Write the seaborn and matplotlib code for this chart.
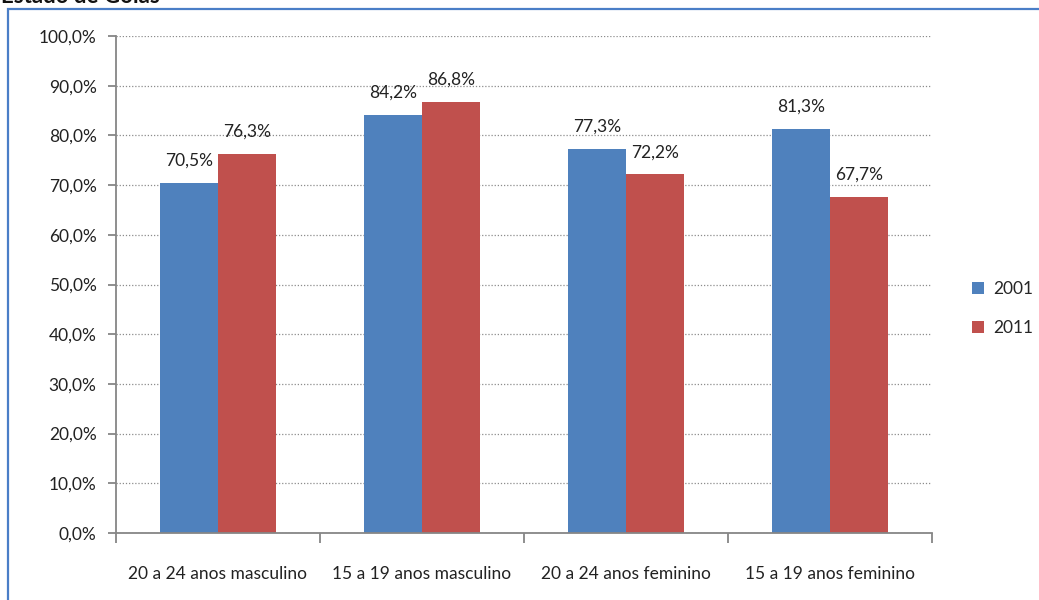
import matplotlib
matplotlib.use("Agg")
import matplotlib.pyplot as plt
import matplotlib.patches as mpatches
import seaborn as sns
import pandas as pd

categories = ["20 a 24 anos masculino", "15 a 19 anos masculino",
              "20 a 24 anos feminino", "15 a 19 anos feminino"]
years = ["2001", "2011"]
values_2001 = [70.5, 84.2, 77.3, 81.3]
values_2011 = [76.3, 86.8, 72.2, 67.7]
y_ticks = [0, 10, 20, 30, 40, 50, 60, 70, 80, 90, 100]

df = pd.DataFrame({
    "categoria": categories * 2,
    "ano": [years[0]] * len(categories) + [years[1]] * len(categories),
    "valor": values_2001 + values_2011,
})

sns.set_theme(style="white")
plt.rcParams["font.family"] = ["Lato", "DejaVu Sans"]
FS = 12.5

fig = plt.figure(figsize=(10.39, 6.0), dpi=100)
ax = fig.add_axes([116 / 1039, 67 / 600, (932 - 116) / 1039, (533 - 36) / 600])

palette = {"2001": "#4F81BD", "2011": "#C0504D"}
sns.barplot(data=df, x="categoria", y="valor", hue="ano", order=categories,
            hue_order=years, palette=palette, width=0.57, gap=0,
            saturation=1, linewidth=0, ax=ax, legend=True)

def fmt(v):
    return f"{v:.1f}".replace(".", ",") + "%"

for cont in ax.containers:
    ax.bar_label(cont, labels=[fmt(b.get_height()) for b in cont],
                 padding=10, fontsize=FS, color="#222222")

ax.set_ylim(0, 100)
ax.set_xlim(-0.5, len(categories) - 0.5)
ax.set_yticks(y_ticks)
ax.set_yticklabels([fmt(t) for t in y_ticks], fontsize=FS, color="#222222")
ax.yaxis.grid(True, linestyle=(0, (1, 1.5)), color="#8c8c8c", linewidth=0.9)
ax.set_axisbelow(True)

# category boundaries carry the tick marks, labels sit at the centres
ax.set_xticks([i - 0.5 for i in range(len(categories) + 1)])
ax.set_xticklabels([])
ax.set_xticks(range(len(categories)), minor=True)
ax.set_xticklabels(categories, minor=True, fontsize=FS, color="#222222")
ax.tick_params(axis="x", which="major", length=7, width=1.3, color="#868686",
               bottom=True, direction="out")
ax.tick_params(axis="x", which="minor", length=0, pad=24)
ax.tick_params(axis="y", length=6, width=1.3, color="#868686", left=True,
               direction="out", pad=8)

ax.set_xlabel("")
ax.set_ylabel("")
for side in ("top", "right"):
    ax.spines[side].set_visible(False)
for side in ("left", "bottom"):
    ax.spines[side].set_color("#868686")
    ax.spines[side].set_linewidth(1.3)

handles, labels = ax.get_legend_handles_labels()
leg = ax.legend(handles, labels, loc="center left",
                bbox_to_anchor=(1.03, 0.5 - 24 / 497),
                frameon=False, fontsize=FS, handlelength=0.7, handleheight=0.7,
                labelspacing=1.3, handletextpad=0.5)

# outer chart frame
frame = mpatches.Rectangle((8 / 1039, -0.2), 1.5, 1.2 - 9 / 600,
                           transform=fig.transFigure, fill=False,
                           edgecolor="#4A7EC7", linewidth=1.6, clip_on=False)
fig.patches.append(frame)

fig.text(1 / 1039, 1 - 3 / 600, "Estado de Goiás", fontsize=16,
         fontweight="bold", ha="left", va="baseline", color="#111111")

fig.savefig("out.png", dpi=100)
